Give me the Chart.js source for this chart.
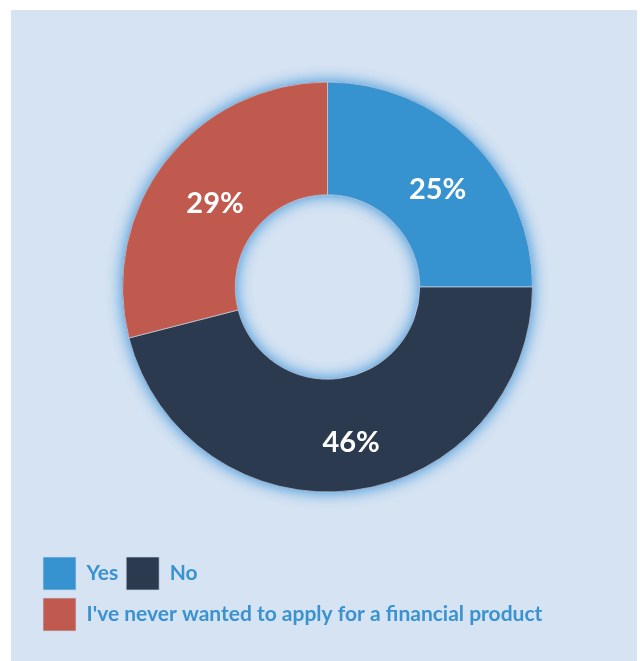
<!DOCTYPE html>
<html>
<head>
<meta charset="utf-8">
<script src="https://cdn.jsdelivr.net/npm/chart.js@4"></script>
<style>
    body { margin: 0; background: #ffffff; }
    #panel { position: absolute; left: 11px; top: 10px; width: 626px; height: 651px; background: #d6e3f2; }
</style>
</head>
<body>
<div id="panel"><canvas id="graphe"></canvas></div>
<script>
// Données du graphique
const categories = ["Yes", "No", "I've never wanted to apply for a financial product"];
const valeurs = [25, 46, 29];
const couleurs = ["#3792d0", "#2b3a4e", "#c0594e"];

// Halo bleu autour de l'anneau entier (dessiné une seule fois, sous les parts)
const glowPlugin = {
    id: "glow",
    beforeDatasetsDraw(chart) {
        const ctx = chart.ctx;
        const arc = chart.getDatasetMeta(0).data[0];
        if (!arc) return;
        const p = arc.getProps(["x", "y", "outerRadius", "innerRadius"], true);
        ctx.save();
        ctx.shadowColor = "rgba(45, 140, 215, 1)";
        ctx.shadowBlur = 16;
        ctx.fillStyle = "#2b3a4e";
        ctx.beginPath();
        ctx.arc(p.x, p.y, p.outerRadius, 0, Math.PI * 2);
        ctx.arc(p.x, p.y, p.innerRadius, Math.PI * 2, 0, true);
        ctx.closePath();
        ctx.fill();
        ctx.restore();
    }
};

// Pourcentages écrits au milieu de chaque part
const labelsPlugin = {
    id: "pourcentages",
    afterDatasetsDraw(chart) {
        const ctx = chart.ctx;
        const meta = chart.getDatasetMeta(0);
        ctx.save();
        ctx.fillStyle = "#ffffff";
        ctx.font = "bold 29px Lato";
        ctx.textAlign = "center";
        ctx.textBaseline = "middle";
        meta.data.forEach((arc, i) => {
            const pos = arc.tooltipPosition();
            ctx.fillText(valeurs[i] + "%", pos.x + 5, pos.y + 8);
        });
        ctx.restore();
    }
};

const ctx = document.getElementById("graphe").getContext("2d");
const chart = new Chart(ctx, {
    type: "doughnut",
    data: {
        labels: categories,
        datasets: [{
            data: valeurs,
            backgroundColor: couleurs,
            borderColor: "rgba(200, 215, 235, 0.7)",
            borderWidth: 1,
            radius: 205,
            cutout: "45%"
        }]
    },
    options: {
        responsive: true,
        maintainAspectRatio: false,
        animation: false,
        layout: {
            padding: { left: 24, right: 17, top: 15, bottom: 20 }
        },
        plugins: {
            legend: {
                display: true,
                position: "bottom",
                align: "start",
                labels: {
                    boxWidth: 33,
                    boxHeight: 33,
                    padding: 8,
                    color: "#3a93d0",
                    font: { family: "Lato", size: 21, weight: "bold" }
                }
            },
            tooltip: { enabled: false }
        }
    },
    plugins: [glowPlugin, labelsPlugin]
});
</script>
</body>
</html>
